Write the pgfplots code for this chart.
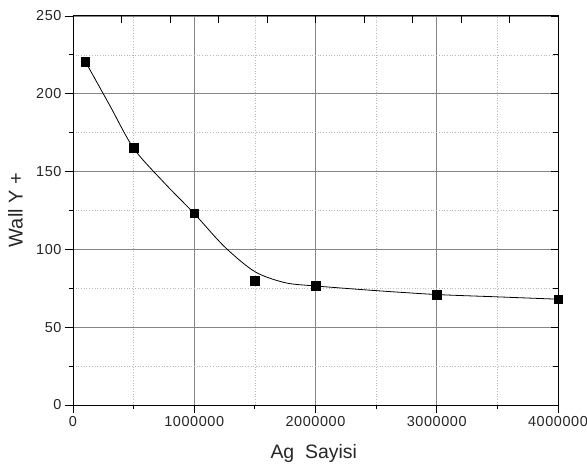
\documentclass[border=0pt]{standalone}
\usepackage{fontspec}
\setmainfont{Liberation Sans}
\usepackage{pgfplots}
\pgfplotsset{compat=1.18}
\begin{document}
\begin{tikzpicture}
\useasboundingbox (-73bp,-66bp) rectangle (514bp,405bp);
\begin{axis}[
  at={(0,0)}, anchor=south west,
  scale only axis, width=485bp, height=389bp,
  xmin=0, xmax=4000000, ymin=0, ymax=250,
  xtick={0,1000000,2000000,3000000,4000000},
  ytick={0,50,100,150,200,250},
  minor x tick num=1, minor y tick num=1,
  scaled x ticks=false,
  xticklabel style={/pgf/number format/fixed, /pgf/number format/1000 sep={}},
  /pgf/number format/assume math mode=true,
  tick label style={font=\fontsize{14.5}{14.5}\selectfont\addfontfeature{LetterSpace=4}, text=black!85},
  grid=both,
  major grid style={draw=black!48, line width=0.8pt},
  minor grid style={draw=black!28, line width=0.7pt, dotted},
  tick align=outside, xtick pos=left, ytick pos=left,
  major tick length=8bp, minor tick length=4bp,
  tick style={black, line width=0.8pt},
  axis line style={black, line width=1pt},
  xlabel={Ag\ \ Sayisi}, ylabel={Wall Y +},
  xlabel style={at={(axis description cs:0.4963,-0.1244)}, anchor=center, font=\fontsize{19.5}{19.5}\selectfont, text=black!85},
  ylabel style={at={(axis description cs:-0.1186,0.501)}, anchor=center, font=\fontsize{20}{20}\selectfont, text=black!85},
  clip=false,
]
\addplot[black, line width=0.8pt, smooth, tension=0.5] coordinates {
  (100000,221) (300000,193) (500000,165) (750000,143) (1000000,123)
  (1250000,101.7) (1500000,85.7) (1750000,78.6) (2000000,76.5)
  (2500000,73.5) (3000000,71) (3500000,69.5) (4000000,68)
};
\addplot[only marks, mark=square*, mark size=4.3pt, black] coordinates {
  (100000,220.6) (500000,165.4) (1000000,123.2) (1500000,79.9)
  (2000000,76.5) (3000000,70.9) (4000000,68.1)
};
\end{axis}
\begin{axis}[
  at={(0,0)}, anchor=south west,
  scale only axis, width=485bp, height=389bp,
  xmin=0, xmax=4000000, ymin=0, ymax=250,
  axis x line*=top, axis y line*=right,
  scaled x ticks=false, scaled y ticks=false,
  xtick={400000,800000,1200000,1600000,2000000,2400000,2800000,3200000,3600000},
  ytick={0,50,100,150,200,250},
  minor y tick num=1,
  xticklabels={}, yticklabels={},
  tick align=inside,
  major tick length=7bp, minor tick length=5bp,
  tick style={black, line width=0.8pt},
  axis line style={black, line width=1pt},
]
\end{axis}
\end{tikzpicture}
\end{document}
